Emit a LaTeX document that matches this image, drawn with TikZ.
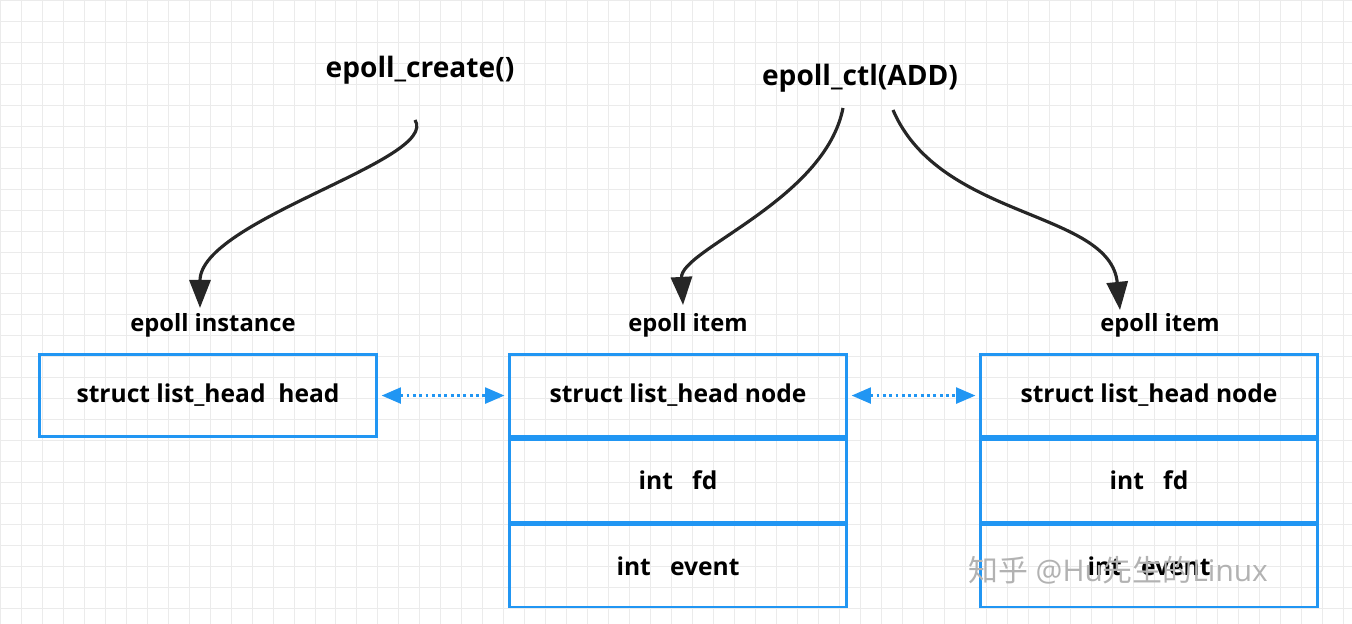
\documentclass[tikz,border=0pt]{standalone}
\usepackage{fontspec}
\setmainfont{Open Sans}
\newfontfamily\cjk{Noto Sans CJK SC}
\usetikzlibrary{arrows.meta,positioning}
\definecolor{boxblue}{HTML}{2196F3}
\tikzset{
  field/.style={draw=boxblue, line width=1.5pt, minimum width=6.75cm, minimum height=1.65cm,
    font=\bfseries\fontsize{14}{16}\selectfont, inner sep=0pt},
  caption/.style={font=\bfseries\fontsize{13.5}{15}\selectfont},
  call/.style={font=\bfseries\fontsize{16}{19}\selectfont},
  link/.style={boxblue, line width=1.6pt, dotted, {Triangle[width=9pt,length=11pt]}-{Triangle[width=9pt,length=11pt]}, shorten <=2pt, shorten >=2pt},
  flow/.style={black!85, line width=1.8pt, -{Triangle[width=12pt,length=16pt]}}
}
\begin{document}
\begin{tikzpicture}[x=0.02cm, y=-0.02cm]
  \useasboundingbox (0,0) rectangle (1352,624);
  % grid
  \draw[black!8, line width=0.5pt, step=0.42cm] (0,0) grid (1352,624);

  \node[call] (create) at (420,70) {epoll\_create()};
  \node[call] (ctl) at (860,78) {epoll\_ctl(ADD)};

  \node[field, anchor=north west] (head) at (38,353) {struct list\_head\ \ head};
  \node[caption] (instlbl) at (213,325) {epoll instance};

  \node[field, anchor=north west] (node1) at (508,353) {struct list\_head node};
  \node[field, below=0pt of node1] (fd1) {int\ \ \ fd};
  \node[field, below=0pt of fd1] (ev1) {int\ \ \ event};
  \node[caption] (itemlbl1) at (688,325) {epoll item};

  \node[field, anchor=north west] (node2) at (979,353) {struct list\_head node};
  \node[field, below=0pt of node2] (fd2) {int\ \ \ fd};
  \node[field, below=0pt of fd2] (ev2) {int\ \ \ event};
  \node[caption] (itemlbl2) at (1160,325) {epoll item};

  \coordinate (c1) at (415,120);
  \coordinate (c2) at (843,108);
  \coordinate (c3) at (893,110);
  \coordinate (t1) at (200,308);
  \coordinate (t2) at (683,305);
  \coordinate (t3) at (1120,310);
  \draw[flow] (c1) .. controls (440,160) and (200,220) .. (t1);
  \draw[flow] (c2) .. controls (825,200) and (680,250) .. (t2);
  \draw[flow] (c3) .. controls (940,220) and (1110,210) .. (t3);

  \draw[link] (head.east) -- (node1.west);
  \draw[link] (node1.east) -- (node2.west);

  \node[black!30, font=\fontsize{17}{20}\selectfont] (mark) at (1118,570) {{\cjk 知乎}\ @Hu{\cjk 先生的}Linux};
\end{tikzpicture}
\end{document}
